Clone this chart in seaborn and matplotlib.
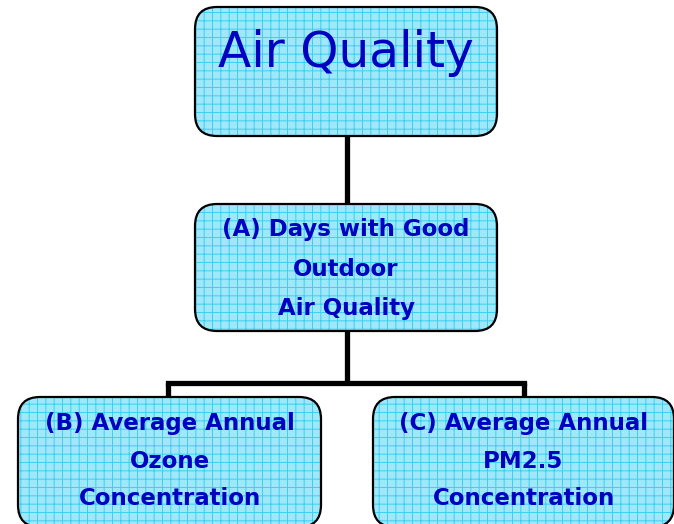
import matplotlib
matplotlib.use("Agg")
import matplotlib.pyplot as plt
from matplotlib.patches import FancyBboxPatch
import seaborn as sns

sns.set_style("white")
plt.rcParams['font.family'] = ['DejaVu Sans']
plt.rcParams['hatch.linewidth'] = 0.7

# node labels
labels = ["Air Quality",
          "(A) Days with Good\nOutdoor\nAir Quality",
          "(B) Average Annual\nOzone\nConcentration",
          "(C) Average Annual\nPM2.5\nConcentration"]
# box extents (x0, y0, x1, y1) in pixel-like layout units
boxes = [(195, 7, 497, 136),
         (195, 204, 497, 331),
         (18, 397, 321, 527),
         (373, 397, 674, 527)]
text_y = [53, 269, 461, 461]
font_sizes = [35, 16.5, 16.5, 16.5]
weights = ["normal", "bold", "bold", "bold"]
spacings = [1.9, 1.9, 1.82, 1.82]

fill = "#9FE7F9"
grid = "#3CCFF2"
text_col = "#0000C0"

fig = plt.figure(figsize=(6.74, 5.24), dpi=100)
ax = fig.add_axes([0, 0, 1, 1])
ax.set_xlim(0, 674)
ax.set_ylim(524, 0)
ax.axis("off")

# connectors
lw = 3.8
ax.plot([347, 347], [136, 204], color="black", lw=lw, solid_capstyle="butt", zorder=1)
ax.plot([347, 347], [331, 383], color="black", lw=lw, solid_capstyle="butt", zorder=1)
ax.plot([168, 524], [383, 383], color="black", lw=lw, solid_capstyle="projecting", zorder=1)
ax.plot([168, 168], [383, 398], color="black", lw=lw, solid_capstyle="butt", zorder=1)
ax.plot([524, 524], [383, 398], color="black", lw=lw, solid_capstyle="butt", zorder=1)

for (x0, y0, x1, y1), lab, fs, wt, ty, sp in zip(boxes, labels, font_sizes, weights, text_y, spacings):
    r = 22
    style = f"round,pad=0,rounding_size={r}"
    bg = FancyBboxPatch((x0, y0), x1 - x0, y1 - y0, boxstyle=style,
                        facecolor=fill, edgecolor=grid, hatch="++",
                        linewidth=0, zorder=2)
    ax.add_patch(bg)
    # near-invisible face keeps the renderer from clipping the curved outline
    outline = FancyBboxPatch((x0, y0), x1 - x0, y1 - y0, boxstyle=style,
                             facecolor=(1, 1, 1, 0.001), edgecolor="black",
                             linewidth=1.6, zorder=3)
    ax.add_patch(outline)
    ax.text((x0 + x1) / 2, ty, lab, ha="center", va="center", fontsize=fs,
            fontweight=wt, color=text_col, linespacing=sp, zorder=4)

fig.savefig("out.png", dpi=100)
